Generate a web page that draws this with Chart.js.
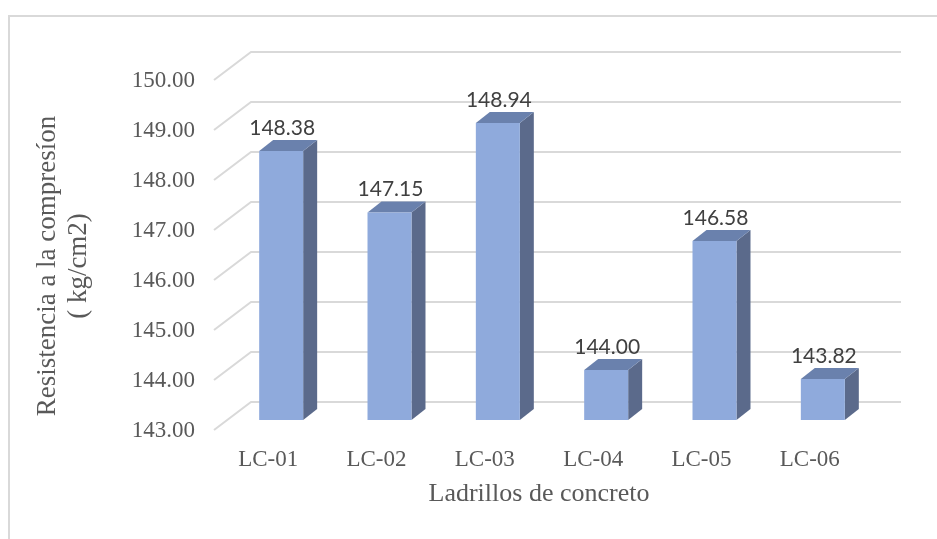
<!DOCTYPE html>
<html>
<head>
<meta charset="utf-8">
<script src="https://cdn.jsdelivr.net/npm/chart.js@4"></script>
<style>
  html, body { margin: 0; padding: 0; background: #ffffff; }
  #wrap { width: 937px; height: 539px; position: relative; }
</style>
</head>
<body>
<div id="wrap"><canvas id="c" width="937" height="539"></canvas></div>
<script>
// Compressive strength per concrete brick sample
const categories = ['LC-01', 'LC-02', 'LC-03', 'LC-04', 'LC-05', 'LC-06'];
const strengths = [148.38, 147.15, 148.94, 144.00, 146.58, 143.82];
const yTicks = [143, 144, 145, 146, 147, 148, 149, 150];
const yTitle = ['Resistencia a la compresíon', '( kg/cm2)'];
const xTitle = 'Ladrillos de concreto';

// 3D look: depth of the plot floor and of each bar
const DEPTH = { dx: 37, dy: -28 };
const BAR_SHIFT = { dx: 13, dy: -10 };
const BAR_DEPTH = { dx: 14, dy: -11 };
const GRID_COLOR = '#d9d9d9';
const FRONT = '#8faadc';
const SIDE = '#5b6a8b';
const TOP = '#6a81ad';
const AXIS_TEXT = '#595959';

const bar3d = {
  id: 'bar3d',
  beforeDraw(chart) {
    const ctx = chart.ctx;
    ctx.save();
    ctx.strokeStyle = GRID_COLOR;
    ctx.lineWidth = 2;
    ctx.strokeRect(9, 16, 1100, 1100);
    ctx.restore();
  },
  beforeDatasetsDraw(chart) {
    const ctx = chart.ctx;
    const y = chart.scales.y;
    const area = chart.chartArea;
    ctx.save();
    ctx.strokeStyle = GRID_COLOR;
    ctx.lineWidth = 2;
    yTicks.forEach(v => {
      const py = y.getPixelForValue(v);
      ctx.beginPath();
      ctx.moveTo(area.left, py);
      ctx.lineTo(area.left + DEPTH.dx, py + DEPTH.dy);
      ctx.lineTo(area.right + DEPTH.dx, py + DEPTH.dy);
      ctx.stroke();
    });
    ctx.restore();

    // bars sit part-way into the depth: shift the drawing plane
    ctx.save();
    ctx.translate(BAR_SHIFT.dx, BAR_SHIFT.dy);
    const meta = chart.getDatasetMeta(0);
    meta.data.forEach(el => {
      const p = el.getProps(['x', 'y', 'width'], true);
      const l = p.x - p.width / 2, r = p.x + p.width / 2;
      const t = p.y, b = area.bottom;
      ctx.fillStyle = SIDE;
      ctx.beginPath();
      ctx.moveTo(r, t);
      ctx.lineTo(r + BAR_DEPTH.dx, t + BAR_DEPTH.dy);
      ctx.lineTo(r + BAR_DEPTH.dx, b + BAR_DEPTH.dy);
      ctx.lineTo(r, b);
      ctx.closePath();
      ctx.fill();
      ctx.fillStyle = TOP;
      ctx.beginPath();
      ctx.moveTo(l, t);
      ctx.lineTo(l + BAR_DEPTH.dx, t + BAR_DEPTH.dy);
      ctx.lineTo(r + BAR_DEPTH.dx, t + BAR_DEPTH.dy);
      ctx.lineTo(r, t);
      ctx.closePath();
      ctx.fill();
    });
  },
  afterDatasetsDraw(chart) {
    const ctx = chart.ctx;
    ctx.restore();
    const meta = chart.getDatasetMeta(0);
    ctx.save();
    ctx.fillStyle = '#404040';
    ctx.font = '21px Lato';
    ctx.textAlign = 'center';
    ctx.textBaseline = 'middle';
    meta.data.forEach((el, i) => {
      const p = el.getProps(['x', 'y'], true);
      ctx.fillText(strengths[i].toFixed(2), p.x + BAR_SHIFT.dx + 1, p.y + BAR_SHIFT.dy - 23);
    });
    ctx.restore();
  },
  afterDraw(chart) {
    // two-line vertical axis title, centred on the whole 3D plot height
    const ctx = chart.ctx;
    const area = chart.chartArea;
    const cy = (area.top + DEPTH.dy + area.bottom) / 2 + 25;
    ctx.save();
    ctx.fillStyle = AXIS_TEXT;
    ctx.font = '27px "Liberation Serif"';
    ctx.textAlign = 'center';
    ctx.textBaseline = 'middle';
    ctx.translate(48, cy);
    ctx.rotate(-Math.PI / 2);
    yTitle.forEach((line, i) => ctx.fillText(line, 0, i * 31));
    ctx.restore();
  }
};

new Chart(document.getElementById('c'), {
  type: 'bar',
  data: {
    labels: categories,
    datasets: [{
      data: strengths,
      backgroundColor: FRONT,
      borderWidth: 0,
      barPercentage: 0.406,
      categoryPercentage: 1
    }]
  },
  options: {
    responsive: false,
    animation: false,
    events: [],
    layout: { padding: { left: 0, top: 80, right: 73, bottom: 29 } },
    plugins: { legend: { display: false }, tooltip: { enabled: false } },
    scales: {
      x: {
        afterFit(scale) { scale.height = 80; },
        grid: { display: false, drawTicks: false },
        border: { display: false },
        ticks: {
          color: AXIS_TEXT,
          font: { family: 'Liberation Serif', size: 23 },
          padding: 16,
          maxRotation: 0,
          autoSkip: false
        },
        title: {
          display: true,
          text: xTitle,
          color: AXIS_TEXT,
          font: { family: 'Liberation Serif', size: 26 },
          padding: { top: 4, bottom: 0 }
        }
      },
      y: {
        min: yTicks[0],
        max: yTicks[yTicks.length - 1],
        afterFit(scale) { scale.width = 214; },
        afterBuildTicks(scale) { scale.ticks = yTicks.map(v => ({ value: v })); },
        grid: { display: false, drawTicks: false },
        border: { display: false },
        ticks: {
          color: AXIS_TEXT,
          font: { family: 'Liberation Serif', size: 23 },
          padding: 19,
          labelOffset: 1,
          callback: v => Number(v).toFixed(2)
        },
        title: { display: false }
      }
    }
  },
  plugins: [bar3d]
});
</script>
</body>
</html>
